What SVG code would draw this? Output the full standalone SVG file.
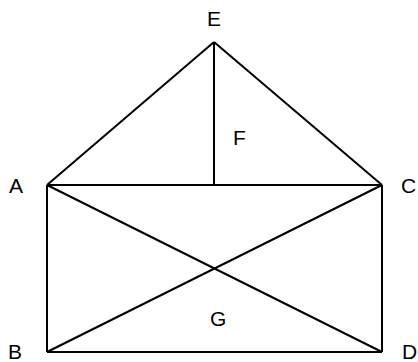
<svg xmlns="http://www.w3.org/2000/svg" width="418" height="362" viewBox="0 0 418 362">
<style>
.l{stroke:#000;stroke-width:2;fill:none;stroke-linecap:butt}
.t{font-family:"Liberation Sans",Arial,sans-serif;font-size:21px;fill:#000}
</style>
<rect width="418" height="362" fill="#fff"/>
<g id="connectors">
<line class="l" x1="47" y1="185" x2="382" y2="185"/>
<line class="l" x1="47" y1="352" x2="382" y2="352"/>
<line class="l" x1="47" y1="185" x2="47" y2="352"/>
<line class="l" x1="382" y1="185" x2="382" y2="352"/>
<line class="l" x1="47" y1="185" x2="214" y2="42"/>
<line class="l" x1="382" y1="185" x2="214" y2="42"/>
<line class="l" x1="214" y1="42" x2="214" y2="185"/>
<line class="l" x1="47" y1="185" x2="382" y2="352"/>
<line class="l" x1="47" y1="352" x2="382" y2="185"/>
</g>
<g id="E"><text class="t" x="214" y="26" text-anchor="middle">E</text></g>
<g id="A"><text class="t" x="9" y="193">A</text></g>
<g id="C"><text class="t" x="401" y="193">C</text></g>
<g id="B"><text class="t" x="8" y="359">B</text></g>
<g id="D"><text class="t" x="402" y="359">D</text></g>
<g id="F"><text class="t" x="233" y="145">F</text></g>
<g id="G"><text class="t" x="210" y="326">G</text></g>
</svg>
